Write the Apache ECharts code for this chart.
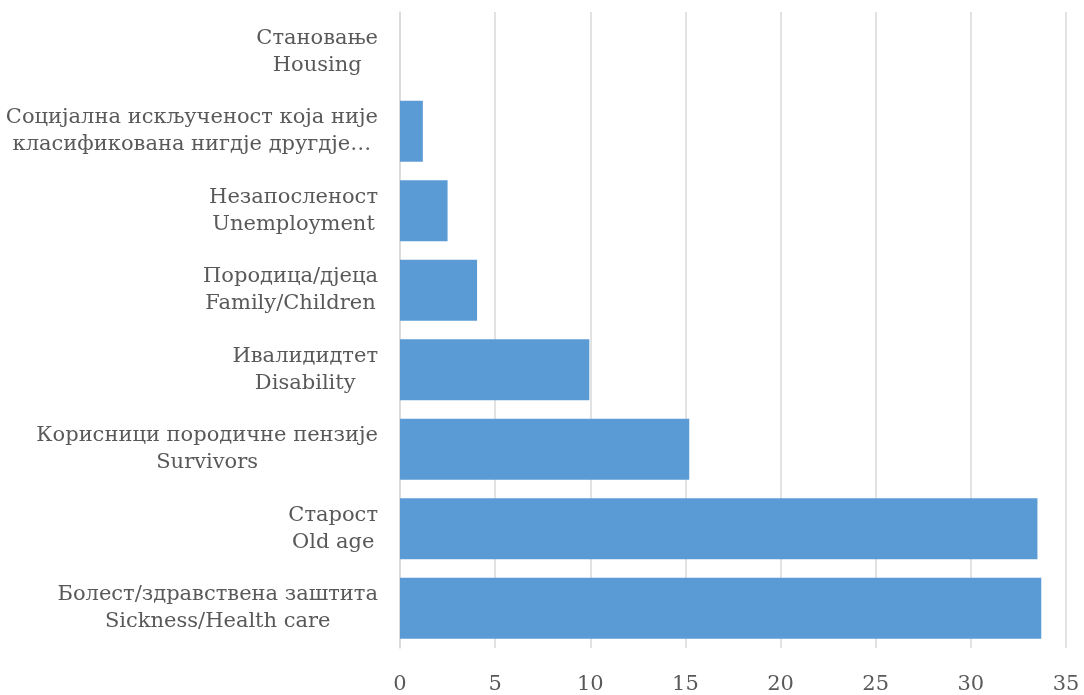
<!DOCTYPE html>
<html>
<head>
<meta charset="utf-8">
<script src="https://cdn.jsdelivr.net/npm/echarts@6/dist/echarts.min.js"></script>
<style>
html,body{margin:0;padding:0;background:#fff;}
#chart{width:1084px;height:695px;}
</style>
</head>
<body>
<div id="chart"></div>
<script>
// categories listed from bottom to top
const categoriesLine1 = [
  'Болест/здравствена заштита',
  'Старост',
  'Корисници породичне пензије',
  'Ивалидидтет',
  'Породица/дјеца',
  'Незапосленост',
  'Социјална искљученост која није',
  'Становање'
];
const categoriesLine2 = [
  'Sickness/Health care',
  'Old age',
  'Survivors',
  'Disability',
  'Family/Children',
  'Unemployment',
  'класификована нигдје другдје…',
  'Housing'
];
const values = [33.7, 33.5, 15.2, 9.95, 4.05, 2.5, 1.2, 0];
const xTicks = { min: 0, max: 35, interval: 5 };

const categories = categoriesLine1.map((l1, i) => l1 + '\n' + categoriesLine2[i]);
const FONT = 'DejaVu Serif';

const chart = echarts.init(document.getElementById('chart'));
chart.setOption({
  animation: false,
  grid: { left: 400, right: 18, top: 12, bottom: 43, containLabel: false },
  xAxis: {
    type: 'value',
    min: xTicks.min, max: xTicks.max, interval: xTicks.interval,
    axisLine: { show: false },
    axisTick: { show: false },
    splitLine: { show: true, lineStyle: { color: '#d9d9d9', width: 1.5 } },
    axisLabel: { color: '#595959', fontFamily: FONT, fontSize: 21, margin: 26 }
  },
  yAxis: {
    type: 'category',
    data: categories,
    axisLine: { show: true, lineStyle: { color: '#d9d9d9', width: 1.5 } },
    axisTick: { show: false },
    axisLabel: {
      margin: 22,
      formatter: function (v) {
        return v.split('\n').map(s => '{a|' + s + '}').join('\n');
      },
      rich: {
        a: { color: '#595959', fontFamily: FONT, fontSize: 21, lineHeight: 27, align: 'center' }
      }
    }
  },
  series: [{
    type: 'bar',
    data: values,
    barCategoryGap: '23%',
    itemStyle: { color: '#5b9bd5' }
  }]
});
</script>
</body>
</html>
